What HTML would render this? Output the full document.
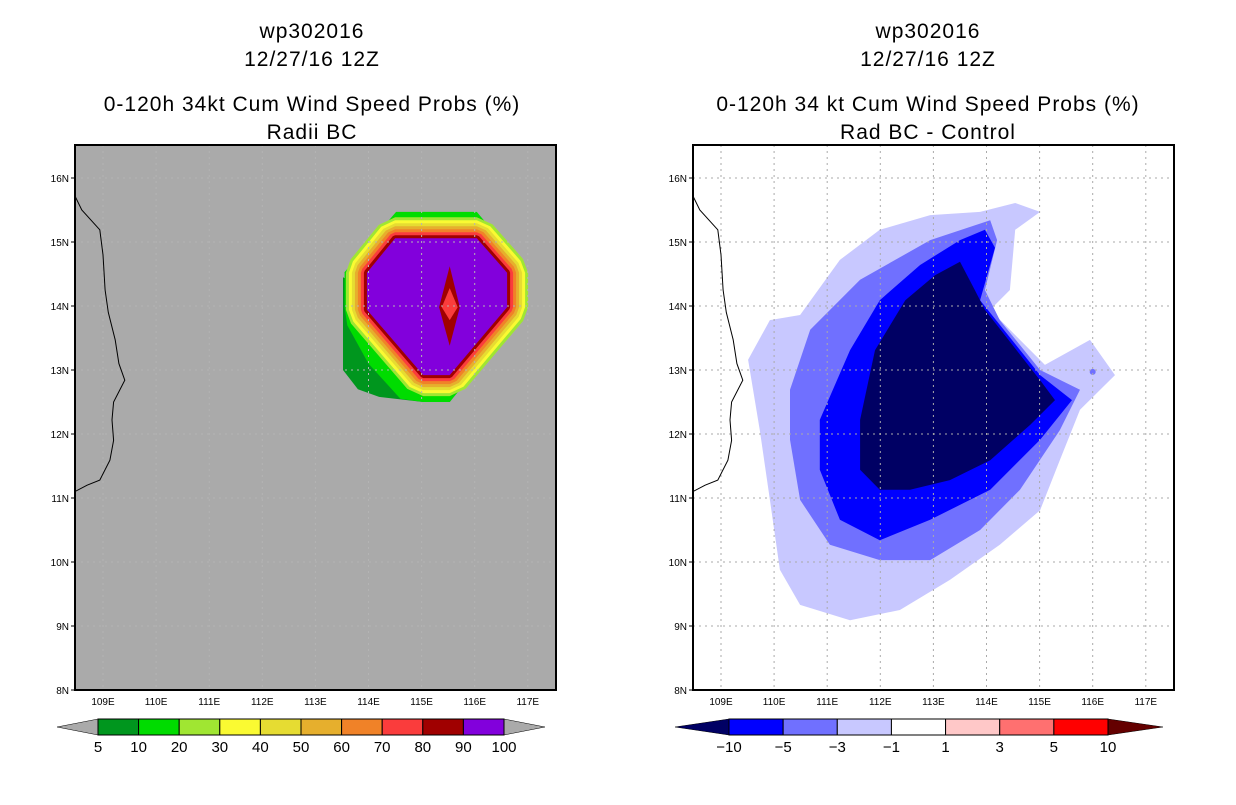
<!DOCTYPE html>
<html><head><meta charset="utf-8"><style>
body{margin:0;background:#fff;width:1236px;height:800px;overflow:hidden;font-family:"Liberation Sans",sans-serif}
svg text{font-family:"Liberation Sans",sans-serif}
</style></head><body>
<svg id="s" width="1236" height="800" xmlns="http://www.w3.org/2000/svg">
<defs>
<clipPath id="c1"><rect x="75" y="145" width="481" height="545"/></clipPath>
<clipPath id="c2"><rect x="693" y="145" width="481" height="545"/></clipPath>
</defs>
<g font-size="21" text-anchor="middle" letter-spacing="1">
<text x="312" y="38">wp302016</text><text x="312" y="66">12/27/16 12Z</text>
<text x="312" y="111">0-120h 34kt Cum Wind Speed Probs (%)</text><text x="312" y="139">Radii BC</text></g>
<g font-size="21" text-anchor="middle" letter-spacing="1">
<text x="928" y="38">wp302016</text><text x="928" y="66">12/27/16 12Z</text>
<text x="928" y="111">0-120h 34 kt Cum Wind Speed Probs (%)</text><text x="928" y="139">Rad BC - Control</text></g>
<g id="p1" clip-path="url(#c1)"></g>
<g id="p2" clip-path="url(#c2)"></g>
<g id="ax"></g>
</svg>
<script>
const lonTicks=[109,110,111,112,113,114,115,116,117];
const latTicks=[8,9,10,11,12,13,14,15,16];
// left panel probability contours (lon,lat)
const ring5=[[113.52,14.45],[113.52,13.0],[113.8,12.7],[114.2,12.58],[115.03,12.5],[115.53,12.5],[116.0,13.0],[114.5,14.0]];
const ring10=[[113.55,14.53],[114.52,15.47],[116.04,15.47],[117.0,14.52],[117.0,13.98],[115.53,12.5],[115.03,12.5],[114.6,12.55],[114.0,13.1],[113.6,13.7],[113.55,13.98]];
const ring90=[[114.5,15.06],[116.04,15.06],[116.61,14.52],[116.61,13.98],[115.53,12.92],[115.03,12.92],[113.97,13.94],[113.97,14.52]];
const bandLevels=[20,30,40,50,60,70,80];
const bandColors=['#a0e632','#fafa32','#e6dc32','#e6af2d','#f08228','#fa3c3c','#a00000'];
const coreOuter=[[115.53,14.62],[115.72,13.98],[115.53,13.38],[115.33,13.98]];
const coreInner=[[115.53,14.28],[115.68,13.98],[115.53,13.78],[115.38,13.98]];
// right panel difference contours
const diffLight=[[114.54,15.61],[115.01,15.47],[114.54,15.19],[114.44,14.25],[114.07,13.94],[114.44,13.63],[115.10,13.08],[115.95,13.47],[116.42,12.92],[115.76,12.38],[115.38,11.59],[115.01,10.81],[114.25,10.27],[113.31,9.72],[112.37,9.25],[111.43,9.09],[110.49,9.33],[110.11,9.88],[109.92,10.97],[109.73,12.06],[109.51,13.16],[109.92,13.78],[110.49,13.86],[111.24,14.72],[111.99,15.19],[112.94,15.42],[113.88,15.47]];
const diffMed=[[114.07,15.34],[114.20,15.03],[113.97,14.25],[114.25,13.78],[115.01,13.0],[115.76,12.69],[115.38,12.06],[114.63,11.13],[113.88,10.5],[112.94,10.03],[111.99,10.03],[111.05,10.27],[110.49,10.97],[110.30,11.91],[110.30,12.69],[110.68,13.63],[111.62,14.41],[112.94,15.03]];
const diffBlue=[[113.97,15.19],[114.16,14.91],[113.88,14.09],[115.01,12.92],[115.61,12.53],[115.01,11.91],[114.07,11.13],[112.94,10.66],[111.99,10.34],[111.24,10.66],[110.86,11.44],[110.86,12.22],[111.43,13.31],[111.99,14.09],[112.75,14.64],[113.50,15.03]];
const diffNavy=[[113.50,14.69],[113.78,14.25],[113.97,13.94],[115.01,12.84],[115.29,12.53],[114.82,12.14],[114.07,11.59],[113.31,11.28],[112.56,11.13],[111.99,11.13],[111.62,11.44],[111.62,12.22],[111.90,13.31],[112.47,14.09],[113.03,14.48]];
const coast=[[108.47,15.72],[108.6,15.5],[108.94,15.19],[109.0,14.8],[109.04,14.25],[109.1,13.9],[109.23,13.47],[109.3,13.1],[109.41,12.84],[109.2,12.5],[109.17,12.22],[109.2,11.9],[109.13,11.59],[108.94,11.28],[108.7,11.2],[108.47,11.1]];
const cbLeftLabels=['5','10','20','30','40','50','60','70','80','90','100'];
const cbLeftColors=['#00961e','#00dc00','#a0e632','#fafa32','#e6dc32','#e6af2d','#f08228','#fa3c3c','#a00000','#8200dc'];
const cbRightLabels=['-10','-5','-3','-1','1','3','5','10'];
const cbRightColors=['#0000ff','#7070ff','#c8c8ff','#ffffff','#ffc8c8','#ff7070','#ff0000'];

const NS='http://www.w3.org/2000/svg';
function mk(t,a,p){const e=document.createElementNS(NS,t);for(const k in a)e.setAttribute(k,a[k]);(p||document.getElementById('s')).appendChild(e);return e;}
function X(lon,x0){return x0+(lon-109)*53.1;}
function Y(lat){return 690-(lat-8)*64;}
function pts(arr,x0){return arr.map(p=>X(p[0],x0).toFixed(1)+','+Y(p[1]).toFixed(1)).join(' ');}
const p1=document.getElementById('p1'),p2=document.getElementById('p2'),ax=document.getElementById('ax');
// left panel
let bg=mk('rect',{x:75,y:145,width:481,height:545,fill:'#aaaaaa'},p1);


let e=mk('polygon',{points:pts(ring5,103),fill:'#00961e'},p1);


e=mk('polygon',{points:pts(ring10,103),fill:'#00dc00'},p1);


bandLevels.forEach((lv,i)=>{const w=(bandLevels.length-i)*3*2;
 const b=mk('polygon',{points:pts(ring90,103),fill:bandColors[i],stroke:bandColors[i],'stroke-width':w,'stroke-linejoin':'bevel'},p1);
 
 });
e=mk('polygon',{points:pts(ring90,103),fill:'#8200dc'},p1);


e=mk('polygon',{points:pts(coreOuter,103),fill:'#a00000'},p1);


e=mk('polygon',{points:pts(coreInner,103),fill:'#fa3c3c'},p1);


// right panel
bg=mk('rect',{x:693,y:145,width:481,height:545,fill:'#ffffff'},p2);


[[diffLight,'#c8c8ff','diff-minus1'],[diffMed,'#7070ff','diff-minus3'],[diffBlue,'#0000ff','diff-minus5'],[diffNavy,'#000064','diff-minus10']].forEach(d=>{
 const q=mk('polygon',{points:pts(d[0],721),fill:d[1]},p2);
 
 });
e=mk('circle',{cx:X(116.0,721),cy:Y(12.97),r:3,fill:'#7070ff'},p2);


// grid, coast, frame, ticks
[[p1,103,75,'#b4b4b4'],[p2,721,693,'#aaaaaa']].forEach((c,ci)=>{
 const [g,x0,bx,gc]=c;
 lonTicks.forEach(l=>{const ln=mk('line',{x1:X(l,x0),x2:X(l,x0),y1:145,y2:690,stroke:gc,'stroke-dasharray':'2,4','stroke-width':1},g);
  
  });
 latTicks.forEach(l=>{const ln=mk('line',{x1:bx,x2:bx+481,y1:Y(l),y2:Y(l),stroke:gc,'stroke-dasharray':'2,4','stroke-width':1},g);
  
  });
 const cl=mk('polyline',{points:pts(coast,x0),fill:'none',stroke:'#000','stroke-width':1},g);
 
 
 const fr=mk('rect',{x:bx,y:145,width:481,height:545,fill:'none',stroke:'#000','stroke-width':2},ax);
 
 
 lonTicks.forEach(l=>{const t=mk('text',{x:X(l,x0),y:705,'font-size':10,'text-anchor':'middle'},ax);t.textContent=l+'E';
  
  });
 latTicks.forEach(l=>{const t=mk('text',{x:bx-6,y:Y(l)+4,'font-size':10,'text-anchor':'end'},ax);t.textContent=l+'N';
  
  
  mk('line',{x1:bx-4,x2:bx,y1:Y(l),y2:Y(l),stroke:'#000'},ax);});
});
// colorbars
function cbar(x0,x1,labels,colors,lt,rt,nm){
 const n=colors.length,w=(x1-x0)/n,y=719,h=16;
 let t=mk('polygon',{points:`${lt[0]},${y+h/2} ${x0},${y} ${x0},${y+h}`,fill:lt[1],stroke:'#000','stroke-width':0.5},ax);
 
 
 t=mk('polygon',{points:`${rt[0]},${y+h/2} ${x1},${y} ${x1},${y+h}`,fill:rt[1],stroke:'#000','stroke-width':0.5},ax);
 
 
 colors.forEach((c,i)=>{const r=mk('rect',{x:x0+i*w,y:y,width:w,height:h,fill:c,stroke:'#000','stroke-width':1},ax);
  
  });
 labels.forEach((l,i)=>{const tx=mk('text',{x:x0+i*w,y:752,'font-size':15,'text-anchor':'middle'},ax);tx.textContent=l.replace('-','\u2212');
  
  });
}
cbar(98,504,cbLeftLabels,cbLeftColors,[57,'#aaaaaa'],[545,'#aaaaaa'],'left-colorbar');
cbar(729,1108,cbRightLabels,cbRightColors,[675,'#000064'],[1163,'#640000'],'right-colorbar');
</script>
</body></html>
